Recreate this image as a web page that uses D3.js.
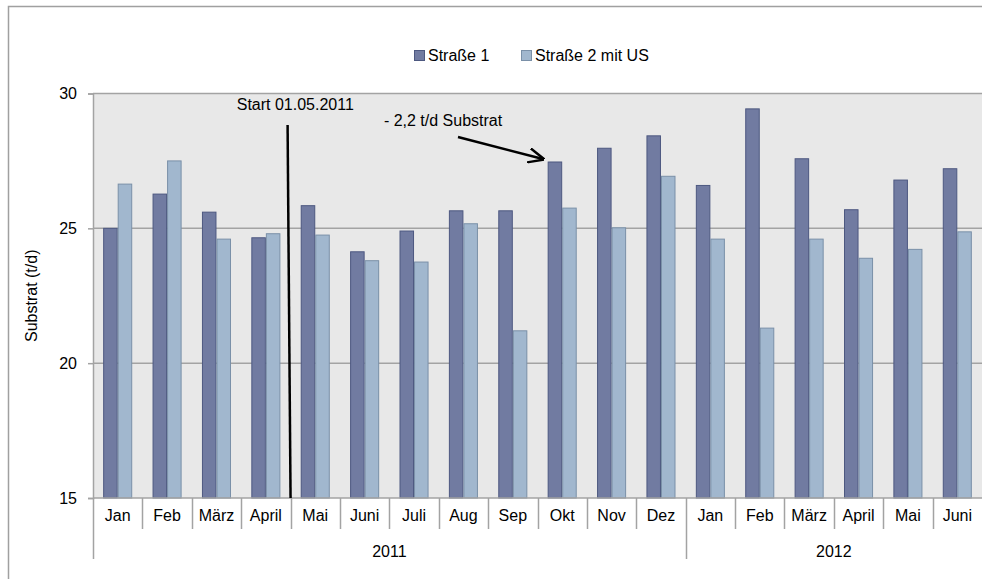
<!DOCTYPE html>
<html>
<head>
<meta charset="utf-8">
<script src="https://cdn.jsdelivr.net/npm/d3@7"></script>
<style>
  html, body { margin: 0; padding: 0; background: #fff; overflow: hidden; }
  svg { display: block; }
  svg text { font-family: "Liberation Sans", Arial, sans-serif; font-size: 16px; fill: #000; }
</style>
</head>
<body>
<svg id="chart" width="982" height="579"></svg>
<script>
// data
var months = ['Jan', 'Feb', 'März', 'April', 'Mai', 'Juni', 'Juli', 'Aug', 'Sep', 'Okt', 'Nov', 'Dez',
              'Jan', 'Feb', 'März', 'April', 'Mai', 'Juni'];
var years = [{label: '2011', from: 0, to: 12}, {label: '2012', from: 12, to: 18}];
var seriesNames = ['Straße 1', 'Straße 2 mit US'];
var strasse1 = [25.0, 26.27, 25.6, 24.65, 25.84, 24.13, 24.9, 25.65, 25.65, 27.46, 27.97, 28.43,
                26.59, 29.43, 27.58, 25.69, 26.79, 27.21];
var strasse2 = [26.64, 27.5, 24.6, 24.8, 24.75, 23.8, 23.75, 25.17, 21.2, 25.75, 25.02, 26.93,
                24.6, 21.3, 24.6, 23.89, 24.22, 24.87];
var yTicks = [15, 20, 25, 30];

// annotations, in category index / value units
var startLine = [[3.94, 28.83], [4.0, 15]];
var startText = {text: 'Start 01.05.2011', i: 2.91, v: 29.4};
var arrowLine = [[7.39, 28.39], [9.11, 27.57]];
var arrowText = {text: '- 2,2 t/d Substrat', i: 5.89, v: 28.8};

var svg = d3.select('#chart');
var margin = {left: 93, right: 0, top: 93.5, bottom: 81};
var W = 982, H = 579;

var colors = {fill: ['#717ba1', '#a1b7ce'], stroke: ['#4d5880', '#7a90a8']};

// outer frame (only left and top edge are inside the picture)
svg.append('path')
  .attr('d', 'M8.5,' + H + 'V6.5H' + W)
  .attr('fill', 'none').attr('stroke', '#a0a0a0').attr('stroke-width', 1.5);

var x0 = d3.scaleBand().domain(d3.range(months.length)).range([margin.left, W - margin.right]).padding(0);
var x1 = d3.scaleBand().domain([0, 1]).range([0, x0.bandwidth()]).paddingInner(0).paddingOuter(0.7);
var xi = d3.scaleLinear().domain([0, months.length]).range([margin.left, W - margin.right]);
var y = d3.scaleLinear().domain([15, 30]).range([H - margin.bottom, margin.top]);

// plot background
svg.append('rect')
  .attr('x', margin.left).attr('y', y(30))
  .attr('width', W - margin.right - margin.left).attr('height', y(15) - y(30))
  .attr('fill', '#e8e8e8');

// gridlines
svg.append('g').selectAll('line')
  .data(yTicks.slice(1))
  .join('line')
  .attr('x1', margin.left).attr('x2', W)
  .attr('y1', function (d) { return y(d); }).attr('y2', function (d) { return y(d); })
  .attr('stroke', '#a3a3a3').attr('stroke-width', 1.5);

// bars
var data = months.map(function (m, i) { return [strasse1[i], strasse2[i]]; });
var groups = svg.append('g').selectAll('g')
  .data(data)
  .join('g')
  .attr('transform', function (d, i) { return 'translate(' + x0(i) + ',0)'; });

groups.selectAll('rect')
  .data(function (d) { return d; })
  .join('rect')
  .attr('x', function (d, j) { return x1(j) + 0.5; })
  .attr('y', function (d) { return y(d); })
  .attr('width', x1.bandwidth() - 1)
  .attr('height', function (d) { return y(15) - y(d); })
  .attr('fill', function (d, j) { return colors.fill[j]; })
  .attr('stroke', function (d, j) { return colors.stroke[j]; })
  .attr('stroke-width', 1);

// y axis
var yAxis = svg.append('g')
  .attr('transform', 'translate(' + margin.left + ',0)')
  .call(d3.axisLeft(y).tickValues(yTicks).tickSize(5).tickPadding(11).tickFormat(d3.format('d')));
yAxis.select('.domain').attr('stroke', '#a3a3a3').attr('stroke-width', 1.5);
yAxis.selectAll('.tick line').attr('stroke', '#a3a3a3').attr('stroke-width', 1.5);
yAxis.selectAll('text').attr('font-size', 16).attr('font-family', '"Liberation Sans", Arial, sans-serif').attr('fill', '#000');

// x axis baseline
svg.append('line')
  .attr('x1', margin.left).attr('x2', W)
  .attr('y1', y(15)).attr('y2', y(15))
  .attr('stroke', '#a3a3a3').attr('stroke-width', 1.5);

// month separators
var yearStarts = years.map(function (d) { return d.from; });
svg.append('g').selectAll('line')
  .data(d3.range(months.length))
  .join('line')
  .attr('x1', function (i) { return Math.round(xi(i)) + 0.5; })
  .attr('x2', function (i) { return Math.round(xi(i)) + 0.5; })
  .attr('y1', y(15))
  .attr('y2', function (i) { return yearStarts.indexOf(i) >= 0 ? y(15) + 61 : y(15) + 31; })
  .attr('stroke', '#a3a3a3').attr('stroke-width', 1.5);

// month labels
svg.append('g').selectAll('text')
  .data(months)
  .join('text')
  .attr('x', function (d, i) { return x0(i) + x0.bandwidth() / 2; })
  .attr('y', y(15) + 23)
  .attr('text-anchor', 'middle')
  .text(function (d) { return d; });

// year labels
svg.append('g').selectAll('text')
  .data(years)
  .join('text')
  .attr('x', function (d) { return (xi(d.from) + xi(d.to)) / 2; })
  .attr('y', y(15) + 59)
  .attr('text-anchor', 'middle')
  .text(function (d) { return d.label; });

// y title
svg.append('text')
  .attr('transform', 'translate(37,' + (y(22.5)) + ') rotate(-90)')
  .attr('text-anchor', 'middle')
  .text('Substrat (t/d)');

// legend
var legend = svg.append('g');
var legendX = [414, 521];
seriesNames.forEach(function (name, j) {
  legend.append('rect')
    .attr('x', legendX[j] + 0.5).attr('y', 50.5)
    .attr('width', 10).attr('height', 10)
    .attr('fill', colors.fill[j]).attr('stroke', colors.stroke[j]);
  legend.append('text')
    .attr('x', legendX[j] + 14).attr('y', 61)
    .text(name);
});

// annotations
var line = d3.line()
  .x(function (d) { return xi(d[0]); })
  .y(function (d) { return y(d[1]); });

svg.append('path')
  .attr('d', line(startLine))
  .attr('stroke', '#000').attr('stroke-width', 2.5).attr('fill', 'none');

svg.append('text')
  .attr('x', xi(startText.i)).attr('y', y(startText.v))
  .attr('font-size', 16.4)
  .text(startText.text);

svg.append('defs').append('marker')
  .attr('id', 'arrow')
  .attr('viewBox', '0 0 10 10')
  .attr('refX', 9).attr('refY', 5)
  .attr('markerWidth', 6.5).attr('markerHeight', 6.5)
  .attr('markerUnits', 'strokeWidth')
  .attr('orient', 'auto')
  .append('path')
  .attr('d', 'M0,0.5L10,5L0,9.5')
  .attr('fill', 'none').attr('stroke', '#000').attr('stroke-width', 1.5);

svg.append('path')
  .attr('d', line(arrowLine))
  .attr('stroke', '#000').attr('stroke-width', 2.5).attr('fill', 'none')
  .attr('marker-end', 'url(#arrow)');

svg.append('text')
  .attr('x', xi(arrowText.i)).attr('y', y(arrowText.v))
  .attr('font-size', 16.8)
  .text(arrowText.text);
</script>
</body>
</html>
